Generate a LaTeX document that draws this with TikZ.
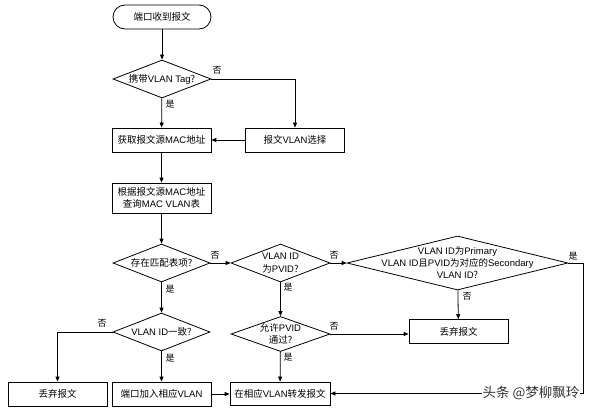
\documentclass[tikz,border=0pt]{standalone}
\usepackage{fontspec}
\setmainfont{Liberation Sans}
\newfontfamily\cjk{Noto Sans CJK SC}
\newcommand\zh[1]{{\cjk #1}}
\usetikzlibrary{shapes.geometric,arrows.meta}
\begin{document}
\begin{tikzpicture}[x=1pt,y=-1pt,
  font=\fontsize{9.5}{12.5}\selectfont,
  box/.style={draw, line width=0.8pt, minimum width=99pt, minimum height=24pt, inner sep=1pt, align=center},
  term/.style={draw, line width=0.8pt, rounded corners=12pt, minimum width=98pt, minimum height=24pt, inner sep=1pt},
  dia/.style={draw, diamond, line width=0.8pt, inner sep=0pt},
  arr/.style={line width=0.8pt, -{Triangle[length=5pt,width=4pt]}},
  ln/.style={line width=0.8pt},
  lab/.style={font=\fontsize{9}{10}\selectfont\cjk, inner sep=0pt},
  wm/.style={font=\fontsize{13.5}{15}\selectfont\cjk, text=black!80, fill=white, inner sep=1pt}
]
\fill[white] (0,0) rectangle (599,415);
\useasboundingbox (0,0) rectangle (599,415);

% nodes
\node[term] (t) at (162,17) {\zh{端口收到报文}};
\node[dia, minimum width=98pt, minimum height=38pt,
  label={[align=center]center:{\zh{携带}VLAN Tag\zh{?}}}] (d1) at (162,79) {};
\node[box] (b1) at (161.5,140) {\zh{获取报文源}MAC\zh{地址}};
\node[box] (b2) at (295,140) {\zh{报文}VLAN\zh{选择}};
\node[box, minimum height=30pt] (b5) at (161.5,198) {\zh{根据报文源}MAC\zh{地址}\\\zh{查询}MAC VLAN\zh{表}};
\node[dia, minimum width=97pt, minimum height=38pt,
  label={[align=center]center:{\zh{存在匹配表项?}}}] (d2) at (161.5,263) {};
\node[dia, minimum width=99pt, minimum height=38pt,
  label={[align=center]center:{VLAN ID\\\zh{为}PVID\zh{?}}}] (d3) at (280.5,263) {};
\node[dia, minimum width=221pt, minimum height=54pt,
  label={[align=center,font=\fontsize{9.5}{12}\selectfont]center:{VLAN ID\zh{为}Primary\\VLAN ID\zh{且}PVID\zh{为对应的}Secondary\\VLAN ID\zh{?}}}] (d4) at (457.5,263) {};
\node[box] (drop1) at (458.5,331.5) {\zh{丢弃报文}};
\node[dia, minimum width=97pt, minimum height=38pt,
  label={[align=center]center:{VLAN ID\zh{一致?}}}] (d5) at (161.5,332) {};
\node[dia, minimum width=99pt, minimum height=35pt,
  label={[align=center]center:{\zh{允许}PVID\\\zh{通过?}}}] (d6) at (280.5,334) {};
\node[box] (drop2) at (57.5,394) {\zh{丢弃报文}};
\node[box] (join) at (161.5,394) {\zh{端口加入相应}VLAN};
\node[box, minimum width=100pt, minimum height=23pt] (fwd) at (280,393.5) {\zh{在相应}VLAN\zh{转发报文}};
\coordinate (c1) at (583,263);

% connectors
\draw[arr] (t) -- (d1);
\draw[arr] (d1) -- (b1);
\draw[arr] (d1.east) -| (b2.north);
\draw[arr] (b2) -- (b1);
\draw[arr] (b1) -- (b5);
\draw[arr] (b5) -- (d2);
\draw[arr] (d2) -- (d3);
\draw[arr] (d3) -- (d4);
\draw[arr] (d4) -- (drop1);
\draw[arr] (d4.east) -- (c1) |- (fwd.east);
\draw[arr] (d2) -- (d5);
\draw[arr] (d5.west) -| (drop2.north);
\draw[arr] (d5) -- (join);
\draw[arr] (join.east) -- (join.east -| fwd.west);
\draw[arr] (d3) -- (d6);
\draw[arr] (d6) -- (fwd);
\draw[arr] (d6.east) -- (d6.east -| drop1.west);

% branch labels
\node[lab] (l1) at (217,70) {否};
\node[lab] (l2) at (170,104) {是};
\node[lab] (l3) at (215,255) {否};
\node[lab] (l4) at (170,289) {是};
\node[lab] (l5) at (334,255) {否};
\node[lab] (l6) at (288,287) {是};
\node[lab] (l7) at (573,256) {是};
\node[lab] (l8) at (467,296) {否};
\node[lab] (l9) at (102,323) {否};
\node[lab] (l10) at (170,358) {是};
\node[lab] (l11) at (334,326) {否};
\node[lab] (l12) at (288,357) {是};

% watermark
\node[wm] (w) at (531,393) {头条 @梦柳飘玲};
\end{tikzpicture}
\end{document}
